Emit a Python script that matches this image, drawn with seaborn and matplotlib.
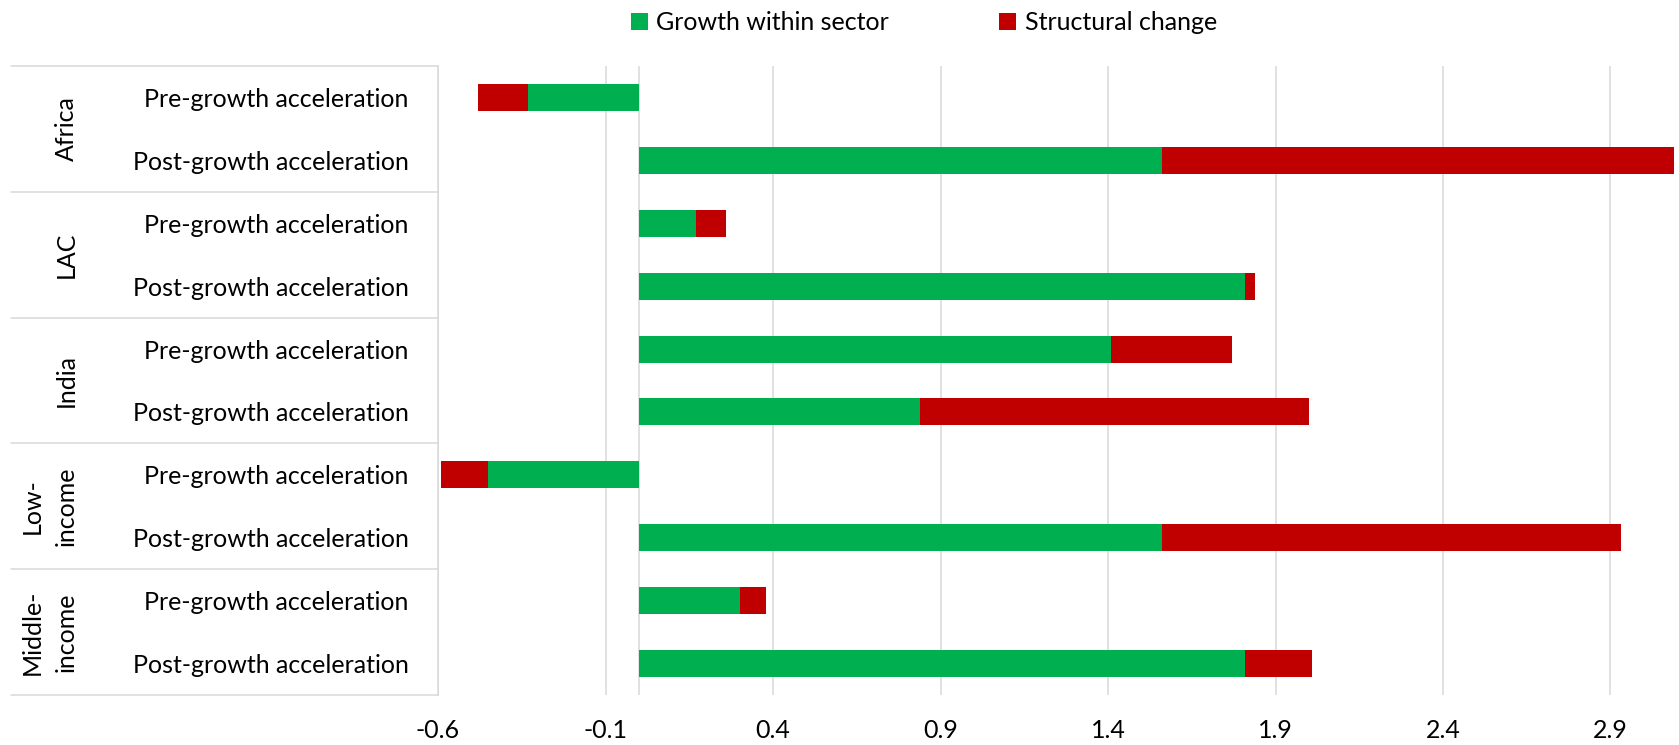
import matplotlib
matplotlib.use("Agg")
import matplotlib.pyplot as plt
from matplotlib.lines import Line2D
from matplotlib.patches import Patch
from matplotlib.transforms import blended_transform_factory
import numpy as np
import pandas as pd
import seaborn as sns

# Data: decomposition of labour productivity growth
groups = ["Africa", "LAC", "India", "Low-\nincome", "Middle-\nincome"]
stages = ["Pre-growth acceleration", "Post-growth acceleration"]
growth_within = [-0.33, 1.56, 0.17, 1.81, 1.41, 0.84, -0.45, 1.56, 0.30, 1.81]
structural = [-0.15, 1.53, 0.09, 0.03, 0.36, 1.16, -0.14, 1.37, 0.08, 0.20]
x_ticks = [-0.6, -0.1, 0.4, 0.9, 1.4, 1.9, 2.4, 2.9]

GREEN = "#00B050"
RED = "#C00000"
GRID = "#D9D9D9"
TEXT = "#000000"

rows = [f"{g}|{s}" for g in groups for s in stages]
df = pd.DataFrame({
    "row": rows,
    "growth": growth_within,
    "structural": structural,
})
df["total"] = df["growth"] + df["structural"]

sns.set_theme(style="white")
plt.rcParams["font.family"] = ["Lato", "DejaVu Sans"]
FS = 18

W, H = 1679, 745
fig = plt.figure(figsize=(W / 100, H / 100), dpi=100)
ax = fig.add_axes([438 / W, 1 - 695 / H, (1677.5 - 438) / W, (695 - 66) / H])

# stacked bars: full total in red, growth component on top in green
sns.barplot(data=df, y="row", x="total", order=rows, orient="h", color=RED,
            width=0.43, saturation=1, linewidth=0, ax=ax, zorder=3)
sns.barplot(data=df, y="row", x="growth", order=rows, orient="h", color=GREEN,
            width=0.43, saturation=1, linewidth=0, ax=ax, zorder=4)

ax.set_xlim(-0.6, 3.1)
ax.set_ylim(9.5, -0.5)
ax.set_xticks(x_ticks)
ax.set_xticklabels([f"{t:.1f}" for t in x_ticks])
ax.set_yticks(range(len(rows)))
ax.set_yticklabels([r.split("|")[1] for r in rows])
ax.set_xlabel("")
ax.set_ylabel("")
ax.tick_params(axis="x", length=0, pad=17, labelsize=FS, labelcolor=TEXT)
ax.tick_params(axis="y", length=0, pad=21, labelsize=FS, labelcolor=TEXT)

ax.grid(axis="x", color=GRID, linewidth=1.1, zorder=0)
ax.grid(axis="y", visible=False)
ax.set_axisbelow(True)
ax.axvline(0, color=GRID, linewidth=1.1, zorder=1)
for side in ["top", "right", "bottom"]:
    ax.spines[side].set_visible(False)
ax.spines["left"].set_color(GRID)
ax.spines["left"].set_linewidth(1.1)

# group separators and rotated group labels in the category area
tr = blended_transform_factory(fig.transFigure, ax.transData)
for yb in [-0.5, 1.5, 3.5, 5.5, 7.5, 9.5]:
    fig.add_artist(Line2D([11 / W, 438 / W], [yb, yb], transform=tr,
                          color=GRID, linewidth=1.1, clip_on=False))
LINE_STEP = 34  # px between rotated text lines
for i, g in enumerate(groups):
    lines = g.split("\n")
    for j, line in enumerate(lines):
        x_right = 78 - LINE_STEP * (len(lines) - 1 - j)
        fig.text(x_right / W, 2 * i + 0.5, line, transform=tr, rotation=90,
                 ha="right", va="center", fontsize=FS, color=TEXT)

handles = [Patch(facecolor=GREEN, edgecolor="none", label="Growth within sector"),
           Patch(facecolor=RED, edgecolor="none", label="Structural change")]
fig.legend(handles=handles, loc="center", bbox_to_anchor=(924 / W, 1 - 23 / H),
           ncol=2, frameon=False, fontsize=FS, handlelength=0.68,
           handleheight=0.68, handletextpad=0.35, columnspacing=4.4,
           labelcolor=TEXT)

fig.savefig("out.png", dpi=100, facecolor="white")
